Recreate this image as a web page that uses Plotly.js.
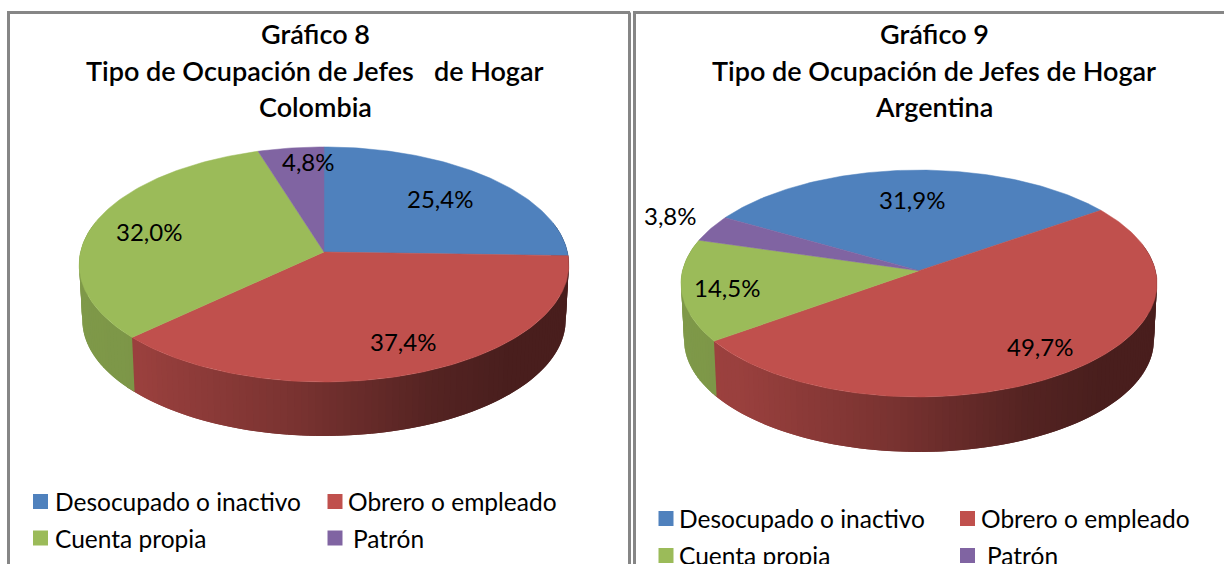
<!DOCTYPE html>
<html>
<head>
<meta charset="utf-8">
<script src="https://cdn.plot.ly/plotly-3.0.1.min.js"></script>
<style>html,body{margin:0;padding:0;background:#fff;overflow:hidden}#chart{width:1224px;height:564px}</style>
</head>
<body>
<div id="chart"></div>
<script>
const categories = ['Desocupado o inactivo', 'Obrero o empleado', 'Cuenta propia', 'Patrón'];
const colombiaValues = [25.4, 37.4, 32.0, 4.8];
const argentinaValues = [31.9, 49.7, 14.5, 3.8];
const sliceColors = ['#4F81BD', '#C0504D', '#9BBB59', '#8064A2'];
const sliceRgb = [[79,129,189],[192,80,77],[155,187,89],[128,100,162]];

const titlesColombia = ['Gráfico 8', 'Tipo de Ocupación de Jefes\u00A0\u00A0 de Hogar', 'Colombia'];
const titlesArgentina = ['Gráfico 9', 'Tipo de Ocupación de Jefes de Hogar', 'Argentina'];

// Pie geometry in pixel-like axis units (perspective disc)
const geomColombia = {cx:324, cy:252, A:243.5, B:116.2, p:0.106, rot:0, depth:54, shrink:0.987};
const geomArgentina = {cx:919, cy:270.7, A:236.5, B:112, p:0.1128, rot:-60, depth:55, shrink:0.987};

const labelPosColombia = [[440,198],[403,341],[149,231],[308,161]];
const labelPosArgentina = [[912,199],[1040,346],[727,287],[670,215]];
const legendPosColombia = {sq:[[40.5,501.5],[335,501.5],[40.5,538],[335,538]], tx:[[53,501],[346,501],[53,538],[351,538]]};
const legendPosArgentina = {sq:[[666,518.5],[967.5,518.5],[666,555.5],[967.5,555.5]], tx:[[677,518.5],[979,518.5],[677,555.5],[985,555.5]]};

const FONT = 'Lato, Carlito, Calibri, sans-serif';
const traces = [];
const annotations = [];

function topPoint(g, deg){
  const t = (deg + g.rot) * Math.PI / 180, u = Math.sin(t), v = Math.cos(t), w = 1 + g.p * v;
  return [g.cx + g.A * u / w, g.cy - g.B * v / w];
}
function bottomPoint(g, deg){
  const t = (deg + g.rot) * Math.PI / 180, u = Math.sin(t), v = Math.cos(t), w = 1 + g.p * v;
  const frontDrop = g.B / (1 - g.p);
  const y0 = g.cy + frontDrop + g.depth - frontDrop * g.shrink;
  return [g.cx + g.A * g.shrink * u / w, y0 - g.B * g.shrink * v / w];
}
function shade(u){
  const xs = [-1, -0.7, -0.1, 0.4, 0.7, 1], ms = [0.82, 0.8, 0.63, 0.44, 0.38, 0.38];
  for (let i = 1; i < xs.length; i++) {
    if (u <= xs[i]) return ms[i-1] + (ms[i]-ms[i-1]) * (u-xs[i-1]) / (xs[i]-xs[i-1]);
  }
  return 0.38;
}
function drawPie(values, g){
  const total = values.reduce((a,b)=>a+b,0);
  const spans = []; let c = 0;
  values.forEach(v => { const d = v / total * 360; spans.push([c, c + d]); c += d; });

  // side wall, drawn first as thin overlapping shaded strips
  const step = 1.5;
  spans.forEach((s, i) => {
    for (let a = s[0]; a < s[1]; a += step) {
      const b = a + 2 * step;
      const amid = a + step / 2 + g.rot;
      const cosV = Math.cos(amid * Math.PI / 180);
      if (cosV > 0.25) continue;
      const um = Math.sin(amid * Math.PI / 180);
      const m = shade(um);
      const col = 'rgb(' + sliceRgb[i].map(x => Math.round(x * m)).join(',') + ')';
      const p1 = topPoint(g, a), p2 = topPoint(g, b), p3 = bottomPoint(g, b), p4 = bottomPoint(g, a);
      traces.push({type:'scatter', mode:'none', x:[p1[0],p2[0],p3[0],p4[0],p1[0]], y:[p1[1],p2[1],p3[1],p4[1],p1[1]],
        fill:'toself', fillcolor:col, hoverinfo:'skip', showlegend:false});
    }
  });
  // top face slices
  spans.forEach((s, i) => {
    const xs = [g.cx], ys = [g.cy];
    for (let a = s[0]; a < s[1]; a += 1) { const p = topPoint(g, a); xs.push(p[0]); ys.push(p[1]); }
    const e = topPoint(g, s[1]); xs.push(e[0], g.cx); ys.push(e[1], g.cy);
    traces.push({type:'scatter', mode:'lines', name:categories[i], x:xs, y:ys, fill:'toself',
      fillcolor:sliceColors[i], line:{color:sliceColors[i], width:0.5}, showlegend:false,
      text:categories[i] + ': ' + values[i].toFixed(1).replace('.', ',') + '%', hoverinfo:'text'});
  });
}
function addText(text, x, y, size, weight, anchor){
  annotations.push({text:text, x:x, y:y, xref:'x', yref:'y', showarrow:false, xanchor:anchor, yanchor:'middle',
    font:{family:FONT, size:size, color:'#000', weight:weight}});
}
function drawLabels(values, pos){
  values.forEach((v, i) => addText(v.toFixed(1).replace('.', ',') + '%', pos[i][0], pos[i][1], 24, 400, 'center'));
}
function drawLegend(pos){
  traces.push({type:'scatter', mode:'markers', x:pos.sq.map(p=>p[0]), y:pos.sq.map(p=>p[1]),
    marker:{symbol:'square', size:15, color:sliceColors, line:{width:0}}, hoverinfo:'skip', showlegend:false});
  categories.forEach((c, i) => addText(c, pos.tx[i][0], pos.tx[i][1], 24.5, 400, 'left'));
}
function drawTitle(lines, cx){
  const ys = [33, 70, 106];
  lines.forEach((t, i) => addText(t, cx, ys[i], 27, 600, 'center'));
}

drawPie(colombiaValues, geomColombia);
drawPie(argentinaValues, geomArgentina);
drawLabels(colombiaValues, labelPosColombia);
drawLabels(argentinaValues, labelPosArgentina);
drawLegend(legendPosColombia);
drawLegend(legendPosArgentina);
drawTitle(titlesColombia, 315);
drawTitle(titlesArgentina, 934);

const frame = '#868686';
const seg = (x0,y0,x1,y1) => ({type:'line', xref:'x', yref:'y', x0, y0, x1, y1, line:{color:frame, width:3}});
const shapes = [seg(8.5,12.5,8.5,564), seg(7,12.5,630,12.5), seg(629.5,12.5,629.5,564),
                seg(634.5,12.5,634.5,564), seg(633,12.5,1224,12.5)];

Plotly.newPlot('chart', traces, {
  width:1224, height:564, margin:{l:0,r:0,t:0,b:0}, paper_bgcolor:'#fff', plot_bgcolor:'#fff', showlegend:false,
  xaxis:{range:[0,1224], visible:false, fixedrange:true},
  yaxis:{range:[564,0], visible:false, fixedrange:true},
  annotations:annotations, shapes:shapes
}, {displayModeBar:false});
</script>
</body>
</html>
